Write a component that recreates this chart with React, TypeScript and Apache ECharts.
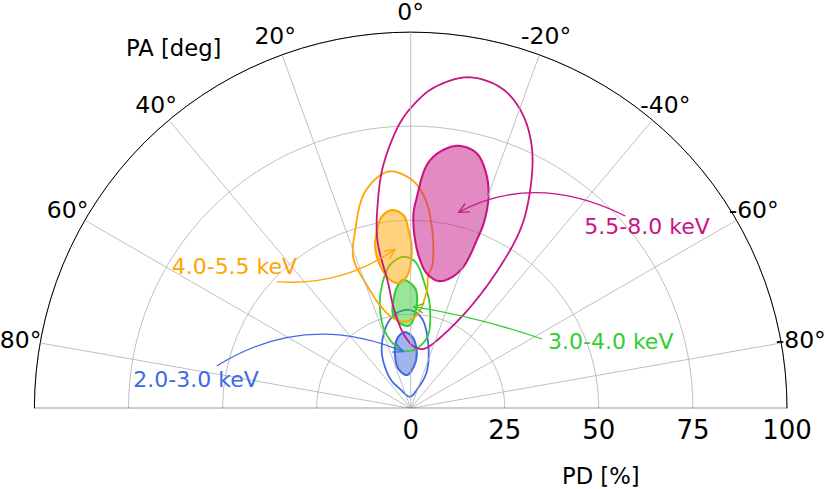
import React, { useEffect, useRef } from "react";
import * as echarts from "echarts";

// ---------- data ----------
const PD_TICKS = [0, 25, 50, 75, 100];
const PA_TICKS = [-80, -60, -40, -20, 0, 20, 40, 60, 80];
const PA_MIN = -90;
const PA_MAX = 90;

const BANDS = ["2.0-3.0 keV", "3.0-4.0 keV", "4.0-5.5 keV", "5.5-8.0 keV"];
const COLORS = ["#4169e1", "#32cd32", "#ffa500", "#c71585"];

// contours as [PD %, PA deg]
const outer_2_3 = [
  [26.1, 0.4], [24.1, -7.0], [17.5, -15.5], [10.6, -23.6], [5.7, -19.8], [3.1, 3.5],
  [5.9, 29.0], [9.7, 34.6], [16.9, 27.1], [23.0, 16.1], [25.6, 8.2],
];
const inner_2_3 = [
  [20.3, 4.3], [18.6, -2.1], [14.3, -6.4], [10.7, -3.3], [8.9, 6.8], [11.2, 17.5],
  [16.5, 14.7], [19.2, 10.1],
];
const outer_3_4 = [
  [40.3, 2.8], [39.0, -1.7], [33.0, -6.6], [27.1, -10.9], [19.1, -12.9], [15.2, 0.7],
  [16.8, 12.8], [21.5, 18.5], [27.8, 17.1], [33.6, 13.1], [38.5, 8.2],
];
const inner_3_4 = [
  [34.2, 3.3], [31.9, -2.1], [27.5, -3.3], [22.1, 0.5], [22.2, 5.1], [25.2, 10.6],
  [28.7, 9.3], [32.4, 6.4],
];
const outer_4_55 = [
  [63.2, 5.4], [60.7, -0.3], [55.9, -3.9], [47.3, -7.0], [38.5, -8.6], [35.7, -7.5],
  [31.3, -7.8], [24.8, -3.7], [23.1, 3.8], [24.4, 10.9], [28.6, 16.6], [34.8, 19.6],
  [42.7, 20.9], [49.2, 17.5], [58.8, 11.9],
];
const inner_4_55 = [
  [52.9, 5.5], [51.4, 2.2], [47.8, 0.8], [41.6, -0.4], [35.0, 1.7], [33.4, 5.7],
  [35.6, 10.3], [42.6, 12.6], [47.8, 10.9], [51.5, 8.6],
];
const outer_55_8 = [
  [89.3, -9.9], [88.4, -15.9], [83.8, -20.7], [75.8, -25.2], [63.6, -29.5], [54.6, -31.7],
  [39.2, -32.0], [25.5, -27.7], [16.4, -13.7], [16.0, -7.0], [16.8, -1.2], [20.1, 5.8],
  [27.4, 9.7], [33.7, 10.2], [45.6, 11.2], [56.5, 8.8], [65.1, 6.4], [75.3, 2.4],
  [80.1, -0.2], [85.3, -4.0],
];
const inner_55_8 = [
  [70.9, -10.3], [70.0, -14.5], [65.2, -18.0], [59.5, -20.3], [53.2, -21.5], [49.0, -21.5],
  [40.1, -20.4], [36.1, -16.8], [34.6, -12.1], [36.1, -6.8], [39.5, -3.6], [44.7, -1.5],
  [51.4, -0.8], [55.8, -1.6], [64.8, -3.8], [68.6, -6.5],
];

const OUTERS = [outer_2_3, outer_3_4, outer_4_55, outer_55_8];
const INNERS = [inner_2_3, inner_3_4, inner_4_55, inner_55_8];

// ---------- layout / style ----------
const W = 825;
const H = 489;
const CX = 410.7;
const CY = 408.3;
const R = 376.3;
const ANGLE_LABEL_PAD = 19.8; // px beyond the outer circle (label centre)
const FONT = "DejaVu Sans";
const GRID = "#b0b0b0";

// annotation geometry (pixels): start, point on curve, tip
const ARROWS = [
  { p0: [216.7, 366], mid: [308.1, 334.6], p2: [403.3, 351.7] },
  { p0: [542, 339], mid: [478, 320], p2: [413.7, 306.7] },
  { p0: [276.7, 281.7], mid: [338.8, 276.0], p2: [395, 249.3] },
  { p0: [625.3, 216], mid: [538.7, 192.7], p2: [458.7, 212.3] },
];
const LABEL_POS = [
  [133.3, 379],
  [548, 341],
  [171.7, 266.7],
  [584.3, 226.7],
];

function rgba(hex: string, a: number) {
  const n = parseInt(hex.slice(1), 16);
  return `rgba(${(n >> 16) & 255},${(n >> 8) & 255},${n & 255},${a})`;
}

// closed centripetal Catmull-Rom curve through the projected points (rendering only)
function closedSpline(p: number[][], steps: number) {
  const n = p.length;
  const out: number[][] = [];
  const knot = (a: number[], b: number[]) => Math.max(Math.sqrt(Math.hypot(b[0] - a[0], b[1] - a[1])), 1e-4);
  const lerp = (a: number[], b: number[], ta: number, tb: number, t: number) => {
    const u = (t - ta) / (tb - ta);
    return [a[0] + (b[0] - a[0]) * u, a[1] + (b[1] - a[1]) * u];
  };
  for (let i = 0; i < n; i++) {
    const P0 = p[(i - 1 + n) % n];
    const P1 = p[i];
    const P2 = p[(i + 1) % n];
    const P3 = p[(i + 2) % n];
    const t0 = 0;
    const t1 = t0 + knot(P0, P1);
    const t2 = t1 + knot(P1, P2);
    const t3 = t2 + knot(P2, P3);
    for (let s = 0; s < steps; s++) {
      const t = t1 + ((t2 - t1) * s) / steps;
      const A1 = lerp(P0, P1, t0, t1, t);
      const A2 = lerp(P1, P2, t1, t2, t);
      const A3 = lerp(P2, P3, t2, t3, t);
      const B1 = lerp(A1, A2, t0, t2, t);
      const B2 = lerp(A2, A3, t1, t3, t);
      out.push(lerp(B1, B2, t1, t2, t));
    }
  }
  return out;
}

function contourSeries(name: string, pts: number[][], color: string, filled: boolean) {
  return {
    type: "custom",
    name,
    coordinateSystem: "polar",
    silent: true,
    data: pts,
    renderItem: (params: any, api: any) => {
      if (params.dataIndexInside !== 0) return null;
      const points: number[][] = [];
      for (let i = 0; i < params.dataInsideLength; i++) {
        points.push(api.coord([api.value(0, i), api.value(1, i)]));
      }
      return {
        type: "polygon",
        shape: { points: closedSpline(points, 16) },
        style: {
          fill: filled ? rgba(color, 0.5) : "none",
          stroke: color,
          lineWidth: filled ? 2.1 : 1.8,
          lineJoin: "round",
        },
      };
    },
  };
}

function arrowGraphic(p0: number[], mid: number[], p2: number[], color: string) {
  const cpx = 2 * mid[0] - (p0[0] + p2[0]) / 2;
  const cpy = 2 * mid[1] - (p0[1] + p2[1]) / 2;
  const dx = p2[0] - cpx;
  const dy = p2[1] - cpy;
  const len = Math.hypot(dx, dy);
  const ux = dx / len;
  const uy = dy / len;
  const L = 10;
  const Wd = 4.8;
  const bx = p2[0] - ux * L;
  const by = p2[1] - uy * L;
  return [
    {
      type: "bezierCurve",
      silent: true,
      z: 100,
      shape: { x1: p0[0], y1: p0[1], cpx1: cpx, cpy1: cpy, x2: p2[0], y2: p2[1] },
      style: { stroke: color, lineWidth: 1.3, fill: "none" },
    },
    {
      type: "polyline",
      silent: true,
      z: 100,
      shape: { points: [[bx - uy * Wd, by + ux * Wd], [p2[0], p2[1]], [bx + uy * Wd, by - ux * Wd]] },
      style: { stroke: color, lineWidth: 1.3, fill: "none" },
    },
  ];
}

export default function App() {
  const ref = useRef<HTMLDivElement>(null);

  useEffect(() => {
    if (!ref.current) return;
    const chart = echarts.init(ref.current, undefined, { renderer: "svg", width: W, height: H });
    const pdMax = PD_TICKS[PD_TICKS.length - 1];

    const spokes = PA_TICKS.map((a) => ({
      type: "line",
      coordinateSystem: "polar",
      silent: true,
      showSymbol: false,
      symbol: "none",
      data: [
        [PD_TICKS[0], a],
        [pdMax, a],
      ],
      lineStyle: { color: GRID, width: 0.8 },
    }));

    const baseline = {
      type: "line",
      coordinateSystem: "polar",
      silent: true,
      showSymbol: false,
      symbol: "none",
      data: [
        [pdMax, PA_MAX],
        [PD_TICKS[0], 0],
        [pdMax, PA_MIN],
      ],
      lineStyle: { color: "#000", width: 1 },
    };

    const contours: any[] = [];
    for (let b = 0; b < BANDS.length; b++) {
      contours.push(contourSeries(BANDS[b] + " 68%", INNERS[b], COLORS[b], true));
      contours.push(contourSeries(BANDS[b] + " 99%", OUTERS[b], COLORS[b], false));
    }

    const option: any = {
      animation: false,
      polar: { center: [CX, CY], radius: R },
      angleAxis: {
        type: "value",
        min: PA_MIN,
        max: PA_MAX,
        interval: 10,
        startAngle: 0,
        endAngle: 180,
        clockwise: false,
        axisLine: { show: true, lineStyle: { color: "#000", width: 1 } },
        axisTick: { show: false },
        splitLine: { show: false },
        axisLabel: { show: false },
      },
      radiusAxis: {
        type: "value",
        min: PD_TICKS[0],
        max: pdMax,
        interval: PD_TICKS[1] - PD_TICKS[0],
        axisLine: { show: false },
        axisTick: { show: false },
        axisLabel: { color: "#000", fontSize: 26, fontFamily: FONT, margin: -35 },
        splitLine: { show: true, lineStyle: { color: GRID, width: 0.8 } },
      },
      series: [...spokes, baseline, ...contours],
    };

    chart.setOption(option);

    // angle tick labels, centred just outside the outer circle (positions via the polar scale)
    const labelR = pdMax * (1 + ANGLE_LABEL_PAD / R);
    const graphic: any[] = [];
    for (const a of PA_TICKS) {
      const p = chart.convertToPixel({ seriesIndex: 0 }, [labelR, a]) as number[];
      graphic.push({
        type: "text",
        x: p[0],
        y: p[1],
        silent: true,
        style: {
          text: `${a}°`,
          fill: "#000",
          fontSize: 23.5,
          lineHeight: 22,
          fontFamily: FONT,
          align: "center",
          verticalAlign: "middle",
        },
      });
    }
    graphic.push(
      {
        type: "text",
        x: 126,
        y: 47.5,
        silent: true,
        style: { text: "PA [deg]", fill: "#000", fontSize: 22.7, fontFamily: FONT, align: "left", verticalAlign: "middle" },
      },
      {
        type: "text",
        x: 562,
        y: 476,
        silent: true,
        style: { text: "PD [%]", fill: "#000", fontSize: 22.7, fontFamily: FONT, align: "left", verticalAlign: "middle" },
      }
    );
    for (let b = 0; b < BANDS.length; b++) {
      graphic.push(...arrowGraphic(ARROWS[b].p0, ARROWS[b].mid, ARROWS[b].p2, COLORS[b]));
      graphic.push({
        type: "text",
        x: LABEL_POS[b][0],
        y: LABEL_POS[b][1],
        silent: true,
        z: 100,
        style: { text: BANDS[b], fill: COLORS[b], fontSize: 22, fontFamily: FONT, align: "left", verticalAlign: "middle" },
      });
    }
    chart.setOption({ graphic });

    return () => chart.dispose();
  }, []);

  return (
    <div
      ref={ref}
      style={{ position: "fixed", left: 0, top: 0, width: W, height: H, background: "#fff" }}
    />
  );
}
